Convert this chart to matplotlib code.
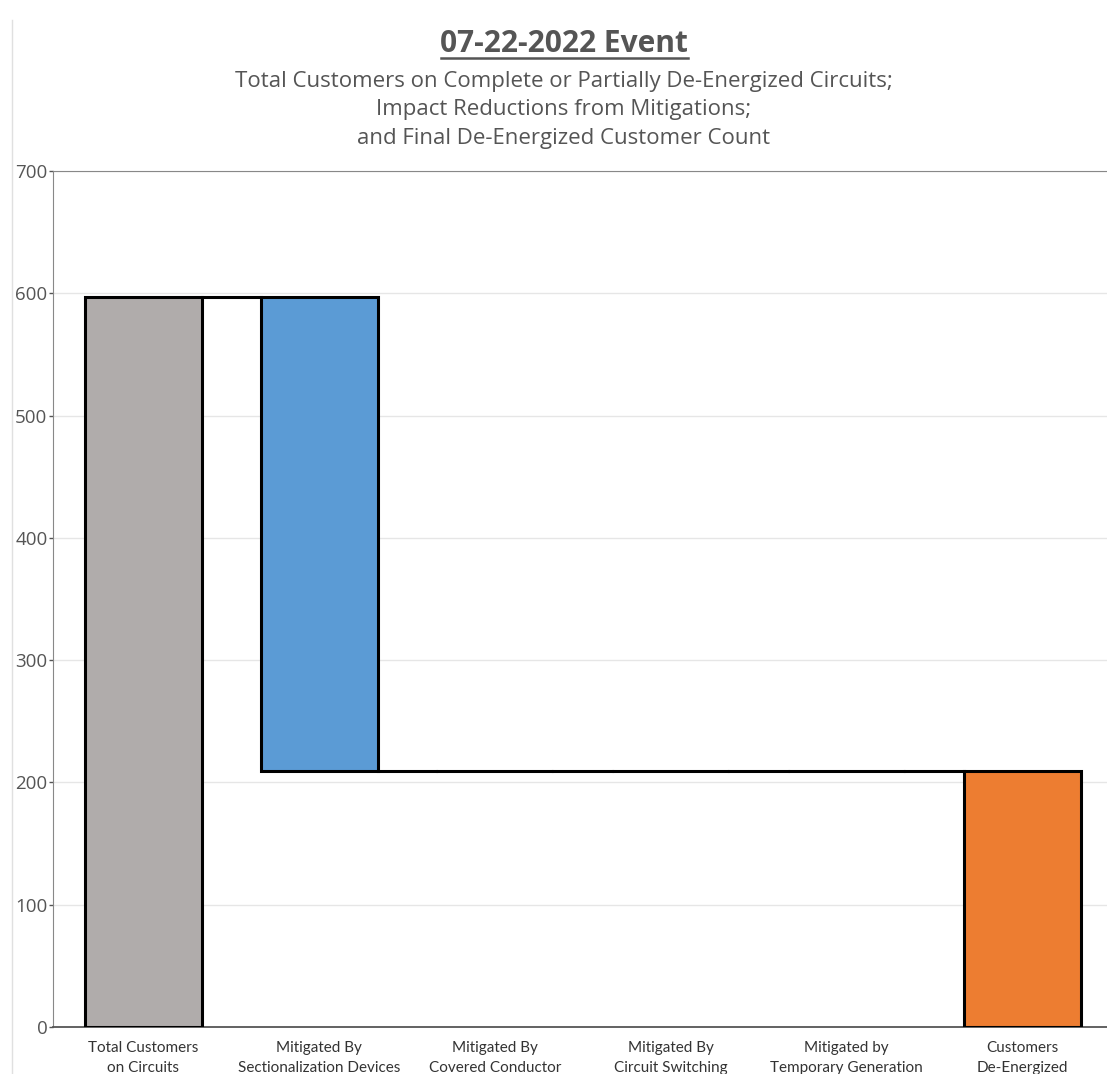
import numpy as np
import matplotlib.pyplot as plt

# 数据
categories = ['Total Customers\non Circuits', 'Mitigated By\nSectionalization Devices',
              'Mitigated By\nCovered Conductor', 'Mitigated By\nCircuit Switching',
              'Mitigated by\nTemporary Generation', 'Customers\nDe-Energized']
total_customers = 597
mitigations = [388, 0, 0, 0]
final_count = total_customers - sum(mitigations)
colors = ['#b0acab', '#5b9bd5', '#5b9bd5', '#5b9bd5', '#5b9bd5', '#ed7d31']
yticks = [0, 100, 200, 300, 400, 500, 600, 700]

# 瀑布图的底和高
bottoms = [0]
heights = [total_customers]
level = total_customers
for m in mitigations:
    level -= m
    bottoms.append(level)
    heights.append(m)
bottoms.append(0)
heights.append(final_count)

fig = plt.figure(figsize=(11.07, 10.74), dpi=100)
ax = fig.add_axes([53 / 1107, 1 - 1027 / 1074, 1062 / 1107, 856 / 1074])

x = np.arange(len(categories))
w = 0.666
ax.bar(x, heights, bottom=bottoms, width=w, color=colors, edgecolor='black',
       linewidth=2.2, zorder=3)

# 连接线
tops = [b + h for b, h in zip(bottoms, heights)]
ax.plot([x[0] + w / 2, x[1] - w / 2], [tops[0], tops[0]], color='black', lw=2.2, zorder=2)
for i in range(1, len(x) - 1):
    ax.plot([x[i] + w / 2, x[i + 1] - w / 2], [bottoms[i], bottoms[i]],
            color='black', lw=2.2, zorder=2)

ax.set_xlim(-0.515, 5.529)
ax.set_ylim(0, 700)
ax.set_yticks(yticks)
ax.set_xticks(x)
ax.set_xticklabels(categories, fontsize=11, family='Lato', color='#333333',
                   linespacing=1.6)
ax.tick_params(axis='y', labelsize=13.5, colors='#555555', length=3, width=1, pad=1)
ax.tick_params(axis='x', length=0, pad=10)
for lbl in ax.get_yticklabels():
    lbl.set_family('Open Sans')
ax.grid(axis='y', color='#e6e6e6', lw=1, zorder=0)
for s in ['left', 'top', 'right']:
    ax.spines[s].set_color('#888888')
ax.spines['bottom'].set_color('#555555')
ax.spines['bottom'].set_linewidth(1.3)

# 标题
fig.text(564 / 1107, 1 - 44 / 1074, '07-22-2022 Event', ha='center', va='center',
         fontsize=21.5, fontweight='bold', family='Open Sans', color='#555555')
fig.add_artist(plt.Line2D([441 / 1107, 688 / 1107], [1 - 58 / 1074, 1 - 58 / 1074],
                          color='#555555', lw=1.8))
fig.text(564 / 1107, 1 - 110 / 1074,
         'Total Customers on Complete or Partially De-Energized Circuits;\n'
         'Impact Reductions from Mitigations;\nand Final De-Energized Customer Count',
         ha='center', va='center', fontsize=16, family='Open Sans', color='#555555',
         linespacing=1.45)
fig.add_artist(plt.Line2D([12 / 1107, 12 / 1107], [0, 1 - 20 / 1074], color='#e0e0e0', lw=1))

fig.savefig('out.png', dpi=100)
